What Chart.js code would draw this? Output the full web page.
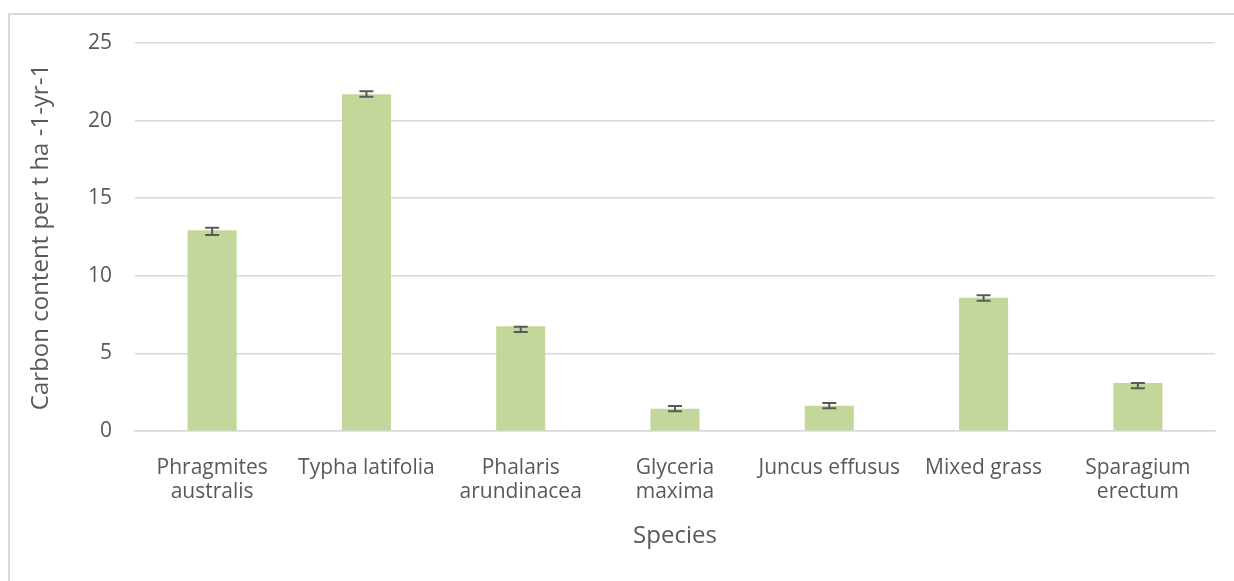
<!DOCTYPE html>
<html>
<head>
<meta charset="utf-8">
<script src="https://cdn.jsdelivr.net/npm/chart.js@4/dist/chart.umd.min.js"></script>
<style>
  html, body { margin: 0; padding: 0; background: #fff; overflow: hidden; }
  #wrap { position: absolute; left: 0; top: 0; width: 1234px; height: 581px; }
  #frame { position: absolute; left: 8px; top: 13px; width: 1300px; height: 700px; border: 2px solid #d9d9d9; box-sizing: border-box; }
  canvas { position: absolute; left: 0; top: 0; }
</style>
</head>
<body>
<div id="wrap">
  <div id="frame"></div>
  <canvas id="c" width="1234" height="581"></canvas>
</div>
<script>
const categories = [
  ['Phragmites', 'australis'],
  'Typha latifolia',
  ['Phalaris', 'arundinacea'],
  ['Glyceria', 'maxima'],
  'Juncus effusus',
  'Mixed grass',
  ['Sparagium', 'erectum']
];
const carbonValues = [12.93, 21.7, 6.75, 1.44, 1.63, 8.59, 3.1];
const errorLow = [12.63, 21.54, 6.38, 1.27, 1.46, 8.40, 2.75];
const errorHigh = [13.10, 21.89, 6.72, 1.61, 1.80, 8.74, 3.09];
const yTicks = [0, 5, 10, 15, 20, 25];

const FONT = '"Open Sans", Lato, sans-serif';
const TXT = '#595959';

const errorBars = {
  id: 'errorBars',
  afterDatasetsDraw(chart) {
    const ctx = chart.ctx;
    const meta = chart.getDatasetMeta(0);
    const ys = chart.scales.y;
    ctx.save();
    ctx.strokeStyle = '#595959';
    ctx.lineWidth = 2;
    meta.data.forEach((bar, i) => {
      const x = bar.x;
      const yl = ys.getPixelForValue(errorLow[i]);
      const yh = ys.getPixelForValue(errorHigh[i]);
      ctx.beginPath();
      ctx.moveTo(x, yl); ctx.lineTo(x, yh);
      ctx.moveTo(x - 7, yl); ctx.lineTo(x + 7, yl);
      ctx.moveTo(x - 7, yh); ctx.lineTo(x + 7, yh);
      ctx.stroke();
    });
    ctx.restore();
  }
};

new Chart(document.getElementById('c'), {
  type: 'bar',
  data: {
    labels: categories,
    datasets: [{
      data: carbonValues,
      backgroundColor: '#c4d79b',
      borderWidth: 0,
      barPercentage: 0.318,
      categoryPercentage: 1.0
    }]
  },
  options: {
    responsive: false,
    animation: false,
    devicePixelRatio: 1,
    layout: { padding: { left: 27, right: 19, top: 43, bottom: 0 } },
    plugins: { legend: { display: false }, tooltip: { enabled: false } },
    scales: {
      y: {
        min: 0, max: 25,
        afterBuildTicks(scale) { scale.ticks = yTicks.map(v => ({ value: v })); },
        afterFit(scale) { scale.width = 108; },
        ticks: { color: TXT, font: { family: FONT, size: 21 }, padding: 23 },
        grid: { color: '#d9d9d9', lineWidth: 1.5, drawTicks: false },
        border: { display: false },
        title: { display: true, text: 'Carbon content per t ha -1-yr-1', color: TXT, font: { family: FONT, size: 24 }, padding: { top: 0, bottom: 0 } }
      },
      x: {
        afterFit(scale) { scale.height = 150; },
        ticks: { color: TXT, font: { family: FONT, size: 21, lineHeight: 1.15 }, padding: 25, maxRotation: 0, autoSkip: false },
        grid: { display: false, drawTicks: false },
        border: { display: true, color: '#d9d9d9', width: 1.5 },
        title: { display: true, text: 'Species', color: TXT, font: { family: FONT, size: 24 }, padding: { top: 4, bottom: 30 } }
      }
    }
  },
  plugins: [errorBars]
});
</script>
</body>
</html>
